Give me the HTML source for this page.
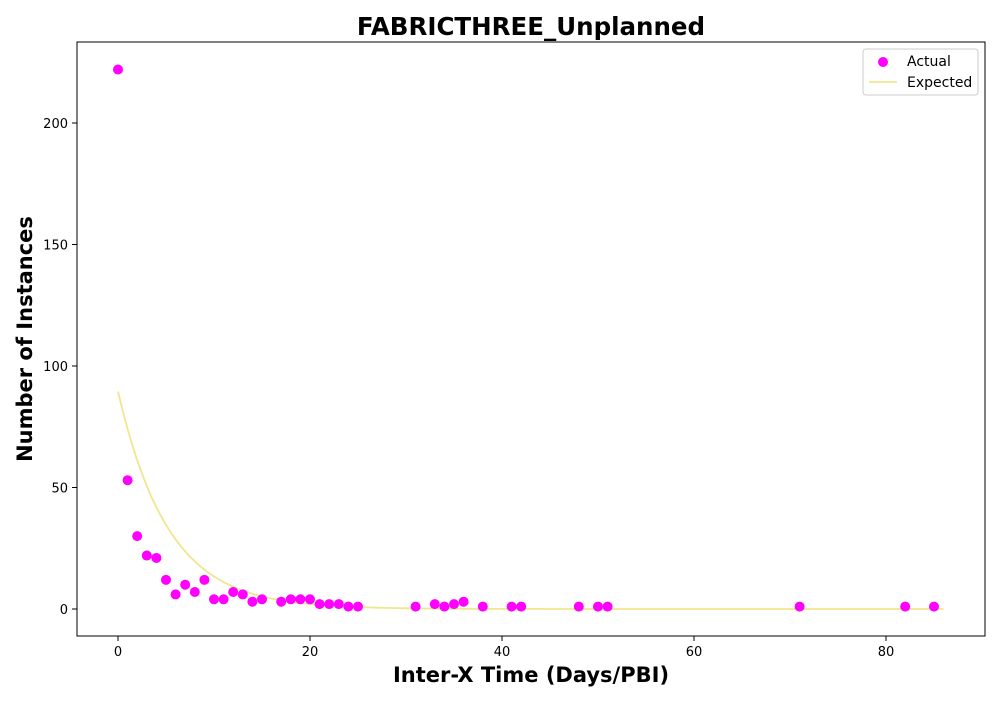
<!DOCTYPE html>
<html><head><meta charset="utf-8"><style>
body{margin:0;background:#fff;font-family:"DejaVu Sans","Liberation Sans",sans-serif}
svg text{font-family:"DejaVu Sans","Liberation Sans",sans-serif}
</style></head><body>
<svg id="chart" width="1000" height="700" xmlns="http://www.w3.org/2000/svg">
<text x="531" y="35" text-anchor="middle" font-size="24.5" font-weight="bold">FABRICTHREE_Unplanned</text>
<text x="531" y="682" text-anchor="middle" font-size="21" font-weight="bold">Inter-X Time (Days/PBI)</text>
<text transform="translate(32,339) rotate(-90)" text-anchor="middle" font-size="21" font-weight="bold">Number of Instances</text>
<g id="ticks"></g>
<path id="expected" fill="none" stroke="#f0e68c" stroke-width="1.8"/>
<g id="pts"></g>
<rect x="77" y="42" width="908" height="594" fill="none" stroke="#000" stroke-width="1"/>
<g>
<rect x="863" y="49" width="115" height="46" rx="3" fill="#fff" stroke="#ccc"/>
<circle cx="883" cy="62" r="5" fill="#ff00ff"/>
<text x="907" y="66" font-size="14">Actual</text>
<line x1="869" y1="82" x2="897" y2="82" stroke="#f0e68c" stroke-width="1.8"/>
<text x="907" y="87" font-size="14">Expected</text>
</g>
</svg>
<script>
const xs=[0,1,2,3,4,5,6,7,8,9,10,11,12,13,14,15,17,18,19,20,21,22,23,24,25,31,33,34,35,36,38,41,42,48,50,51,71,82,85];
const ys=[222,53,30,22,21,12,6,10,7,12,4,4,7,6,3,4,3,4,4,4,2,2,2,1,1,1,2,1,2,3,1,1,1,1,1,1,1,1,1];
const expA=89.5, expK=0.19, expMax=86;
const xTicks=[0,20,40,60,80];
const yTicks=[0,50,100,150,200];
const X=v=>118+v*9.6, Y=v=>609-v*2.43;
const ns="http://www.w3.org/2000/svg";
const tg=document.getElementById('ticks');
xTicks.forEach(t=>{
 const l=document.createElementNS(ns,'line');
 l.setAttribute('x1',X(t));l.setAttribute('x2',X(t));l.setAttribute('y1',636);l.setAttribute('y2',641);l.setAttribute('stroke','#000');
 
 
 tg.appendChild(l);
 const tx=document.createElementNS(ns,'text');
 tx.setAttribute('x',X(t));tx.setAttribute('y',656);tx.setAttribute('text-anchor','middle');tx.setAttribute('font-size','13');tx.textContent=t;
 
 
 tg.appendChild(tx);
});
yTicks.forEach(t=>{
 const l=document.createElementNS(ns,'line');
 l.setAttribute('x1',72);l.setAttribute('x2',77);l.setAttribute('y1',Y(t));l.setAttribute('y2',Y(t));l.setAttribute('stroke','#000');
 
 
 tg.appendChild(l);
 const tx=document.createElementNS(ns,'text');
 tx.setAttribute('x',68);tx.setAttribute('y',Y(t)+5);tx.setAttribute('text-anchor','end');tx.setAttribute('font-size','13');tx.textContent=t;
 
 
 tg.appendChild(tx);
});
let d='';
for(let x=0;x<=expMax;x+=0.5){d+=(x?'L':'M')+X(x).toFixed(1)+','+Y(expA*Math.exp(-expK*x)).toFixed(1);}
document.getElementById('expected').setAttribute('d',d);
const pg=document.getElementById('pts');
xs.forEach((x,i)=>{
 const c=document.createElementNS(ns,'circle');
 c.setAttribute('cx',X(x));c.setAttribute('cy',Y(ys[i]));c.setAttribute('r',5);c.setAttribute('fill','#ff00ff');
 
 
 pg.appendChild(c);
});
</script>
</body></html>
